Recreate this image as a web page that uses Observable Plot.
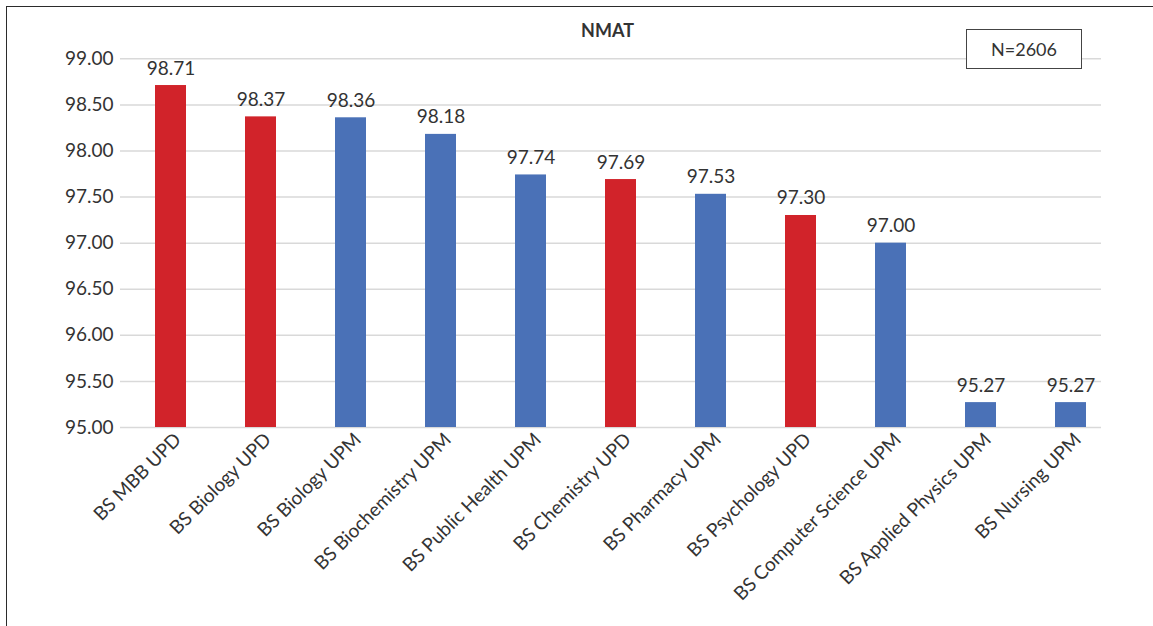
<!DOCTYPE html>
<html>
<head>
<meta charset="utf-8">
<script src="https://cdn.jsdelivr.net/npm/d3@7"></script>
<script src="https://cdn.jsdelivr.net/npm/@observablehq/plot@0.6"></script>
<style>
  html, body { margin: 0; padding: 0; background: #fff; }
  #wrap { position: relative; width: 1153px; height: 626px; overflow: hidden; font-family: Lato, "Open Sans", sans-serif; }
  #frame { position: absolute; left: 6px; top: 6px; right: -10px; bottom: -10px; border-left: 1.5px solid #2b2b2b; border-top: 1.5px solid #2b2b2b; }
  #title { position: absolute; left: 0; width: 1215px; top: 19px; text-align: center; font-weight: bold; font-size: 18px; color: #333; }
  #nbox { position: absolute; left: 966px; top: 29px; width: 114px; height: 38px; border: 1.3px solid #444; background: #fff; font-size: 18px; color: #333; display: flex; align-items: center; justify-content: center; z-index: 2; }
  #chart { position: absolute; left: 0; top: 0; }
</style>
</head>
<body>
<div id="wrap">
  <div id="frame"></div>
  <div id="chart"></div>
  <div id="title">NMAT</div>
  <div id="nbox">N=2606</div>
</div>
<script>
// Mean NMAT percentile by degree program
const programs = [
  "BS MBB UPD", "BS Biology UPD", "BS Biology UPM", "BS Biochemistry UPM",
  "BS Public Health UPM", "BS Chemistry UPD", "BS Pharmacy UPM",
  "BS Psychology UPD", "BS Computer Science UPM", "BS Applied Physics UPM",
  "BS Nursing UPM"
];
const scores = [98.71, 98.37, 98.36, 98.18, 97.74, 97.69, 97.53, 97.30, 97.00, 95.27, 95.27];
const campuses = ["UPD", "UPD", "UPM", "UPM", "UPM", "UPD", "UPM", "UPD", "UPM", "UPM", "UPM"];
const yTicks = [95.0, 95.5, 96.0, 96.5, 97.0, 97.5, 98.0, 98.5, 99.0];
const campusColors = { UPD: "#d1232a", UPM: "#4a71b7" };

const rows = programs.map((p, i) => ({ program: p, score: scores[i], campus: campuses[i] }));
const base = yTicks[0];

const chart = Plot.plot({
  width: 1153,
  height: 626,
  marginLeft: 120,
  marginRight: 52,
  marginTop: 58.3,
  marginBottom: 199,
  style: { fontFamily: "Lato, 'Open Sans', sans-serif", color: "#333", background: "transparent" },
  x: {
    type: "band",
    domain: programs,
    range: [125.5, 1115.5],
    paddingInner: 0.656,
    paddingOuter: 0.328,
    align: 0.5
  },
  y: { domain: [yTicks[0], yTicks[yTicks.length - 1]] },
  color: { domain: Object.keys(campusColors), range: Object.values(campusColors) },
  marks: [
    Plot.gridY(yTicks, { stroke: "#d9d9d9", strokeOpacity: 1, strokeWidth: 1.5 }),
    Plot.barY(rows, { x: "program", y1: () => base, y2: "score", fill: "campus" }),
    Plot.text(rows, {
      x: "program", y: "score", text: (d) => d.score.toFixed(2),
      lineAnchor: "bottom", dy: -11, fontSize: 19, fill: "#333"
    }),
    Plot.axisY(yTicks, {
      tickSize: 0, tickPadding: 7, fontSize: 19,
      tickFormat: (d) => d.toFixed(2), label: null
    }),
    Plot.axisX({
      tickSize: 0, tickPadding: 9, dx: 7, tickRotate: -45, fontSize: 19, label: null
    })
  ]
});
document.getElementById("chart").appendChild(chart);
</script>
</body>
</html>
